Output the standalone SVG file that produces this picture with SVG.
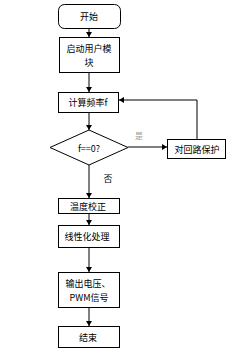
<svg xmlns="http://www.w3.org/2000/svg" width="247" height="361" viewBox="0 0 247 361">
<style>
.n{fill:#fff;stroke:#000;stroke-width:1}
.t{font-family:"Noto Sans CJK SC","Liberation Sans",sans-serif;font-size:9px;fill:#000;text-anchor:middle;dominant-baseline:central}
.c{fill:none;stroke:#000;stroke-width:1}
</style>
<defs>
<marker id="a" markerWidth="6" markerHeight="6" refX="5" refY="3" orient="auto" markerUnits="userSpaceOnUse">
<path d="M0,0L5,3L0,6Z" fill="#000"/>
</marker>
</defs>
<rect width="247" height="361" fill="#fff"/>
<g id="connectors">
<line class="c" x1="89" y1="28" x2="89" y2="37" marker-end="url(#a)"/>
<line class="c" x1="89" y1="72" x2="89" y2="92" marker-end="url(#a)"/>
<line class="c" x1="89" y1="112" x2="89" y2="130" marker-end="url(#a)"/>
<line class="c" x1="128" y1="147" x2="167" y2="147" marker-end="url(#a)"/>
<polyline class="c" points="197,139 197,100 119,100" marker-end="url(#a)"/>
<line class="c" x1="89" y1="165" x2="89" y2="198" marker-end="url(#a)"/>
<line class="c" x1="89" y1="213" x2="89" y2="225" marker-end="url(#a)"/>
<line class="c" x1="89" y1="247" x2="89" y2="272" marker-end="url(#a)"/>
<line class="c" x1="89" y1="307" x2="89" y2="326" marker-end="url(#a)"/>
<text class="t" x="139" y="135" style="fill:#999;font-size:8px">是</text>
<text class="t" x="108" y="178">否</text>
</g>
<g id="start"><rect class="n" x="58.5" y="4.5" width="62" height="24" rx="6"/><text class="t" x="89" y="16">开始</text></g>
<g id="init"><rect class="n" x="59.5" y="37.5" width="60" height="35"/><text class="t" x="89" y="48">启动用户模</text><text class="t" x="89" y="62">块</text></g>
<g id="calc"><rect class="n" x="58.5" y="92.5" width="60" height="20"/><text class="t" x="88" y="102">计算频率f</text></g>
<g id="decision"><polygon class="n" points="89,130 128,147.5 89,165 50,147.5"/><text class="t" x="89" y="148">f==0?</text></g>
<g id="protect"><rect class="n" x="167.5" y="139.5" width="58" height="19"/><text class="t" x="197" y="149">对回路保护</text></g>
<g id="temp"><rect class="n" x="58.5" y="198.5" width="61" height="15"/><text class="t" x="88" y="206">温度校正</text></g>
<g id="linear"><rect class="n" x="58.5" y="225.5" width="61" height="22"/><text class="t" x="87" y="236">线性化处理</text></g>
<g id="output"><rect class="n" x="58.5" y="272.5" width="61" height="35"/><text class="t" x="88" y="283">输出电压、</text><text class="t" x="89" y="297">PWM信号</text></g>
<g id="end"><rect class="n" x="58.5" y="326.5" width="61" height="21"/><text class="t" x="88" y="337">结束</text></g>
</svg>
